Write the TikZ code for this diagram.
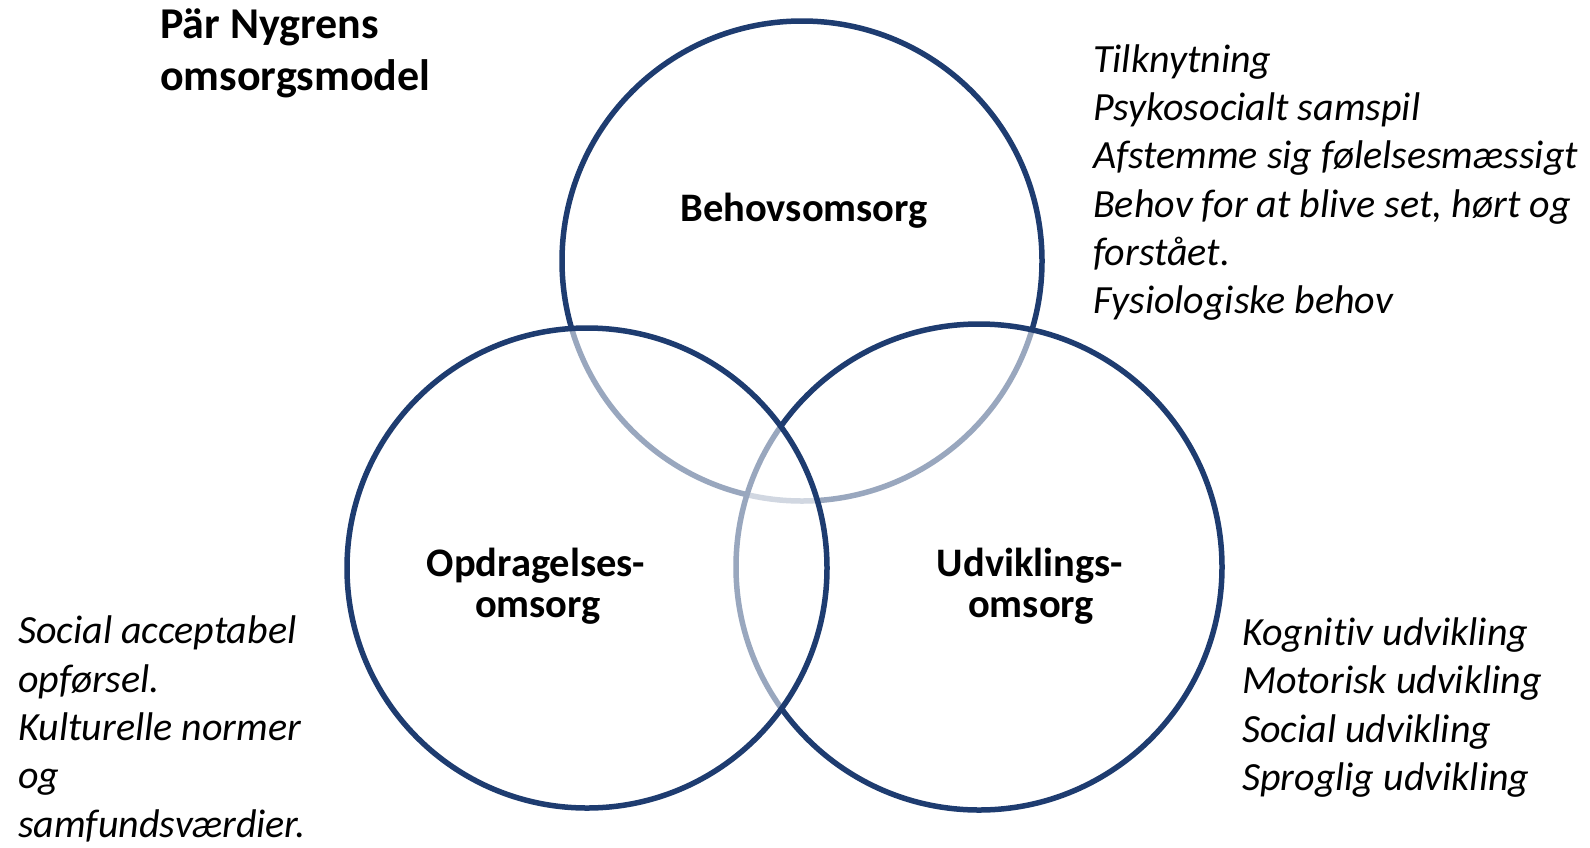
\documentclass[tikz,border=0pt]{standalone}
\usepackage{fontspec}
\setmainfont[Ligatures=NoCommon]{Carlito}
\usepackage{tikz}
\usetikzlibrary{positioning}
\definecolor{ringblue}{RGB}{30,60,112}

\tikzset{
  ring/.style={circle,draw=ringblue,line width=5.5pt,fill=white,fill opacity=0.55,
    text opacity=1,inner sep=0pt,minimum size=480pt},
  ringlabel/.style={font=\fontsize{40.5}{46}\selectfont\bfseries,anchor=base},
  item/.style={font=\fontsize{40}{48}\selectfont\itshape,anchor=base west,inner sep=0pt},
  headline/.style={font=\fontsize{44}{50}\selectfont\bfseries,anchor=base west,inner sep=0pt},
}

\begin{document}
\begin{tikzpicture}[x=1pt,y=-1pt]
  \useasboundingbox (0,0) rectangle (1590,847);

  % Title
  \node[headline] (T1) at (160,38) {Pär Nygrens};
  \node[headline] (T2) at (160,90) {omsorgsmodel};

  % The three circles (drawn top, right, left)
  \node[ring] (Beh) at (802,261) {};
  \node[ring,minimum size=486pt] (Udv) at (979,567) {};
  \node[ring] (Opd) at (587,568) {};

  % Labels inside the circles
  \node[ringlabel] (BehL)  at (804,221) {Behovsomsorg};
  \node[ringlabel] (OpdL1) at (536,576) {Opdragelses-};
  \node[ringlabel] (OpdL2) at (538,617) {omsorg};
  \node[ringlabel] (UdvL1) at (1030,576) {Udviklings-};
  \node[ringlabel] (UdvL2) at (1031,617) {omsorg};

  % Behovsomsorg
  \node[item] (B1) at (1093,72)  {Tilknytning};
  \node[item] (B2) at (1093,120) {Psykosocialt samspil};
  \node[item] (B3) at (1093,168) {Afstemme sig følelsesmæssigt};
  \node[item] (B4) at (1093,217) {Behov for at blive set, hørt og};
  \node[item] (B5) at (1093,265) {forstået.};
  \node[item] (B6) at (1093,313) {Fysiologiske behov};

  % Opdragelsesomsorg
  \node[item] (O1) at (18,643) {Social acceptabel};
  \node[item] (O2) at (18,692) {opførsel.};
  \node[item] (O3) at (18,740) {Kulturelle normer};
  \node[item] (O4) at (18,788) {og};
  \node[item] (O5) at (18,837) {samfundsværdier.};

  % Udviklingsomsorg
  \node[item] (U1) at (1242,645) {Kognitiv udvikling};
  \node[item] (U2) at (1242,693) {Motorisk udvikling};
  \node[item] (U3) at (1242,742) {Social udvikling};
  \node[item] (U4) at (1242,790) {Sproglig udvikling};
\end{tikzpicture}
\end{document}
